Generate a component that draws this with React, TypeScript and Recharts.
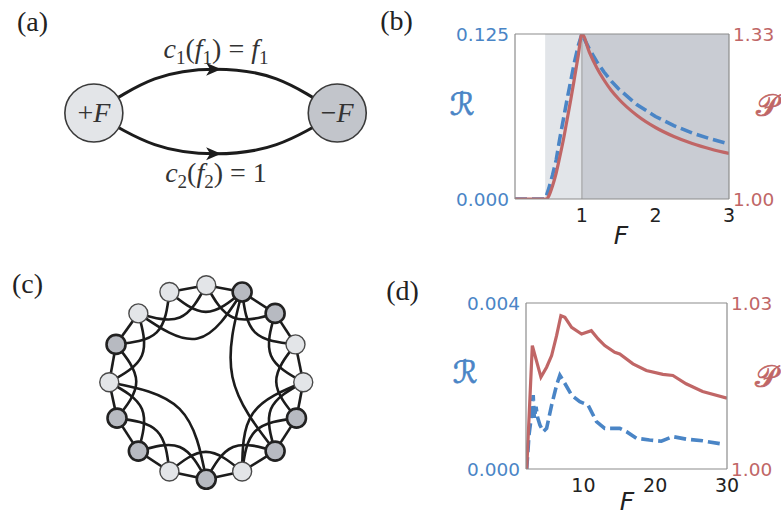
import React from 'react';
import { ComposedChart, Line, Scatter, XAxis, YAxis, ReferenceArea, ReferenceLine } from 'recharts';

const BLUE = '#4a85c6';
const RED = '#c06666';
const FRAME = '#8c8c8c';
const INK = '#1c1c1c';
const LIGHT_NODE = '#e3e5e8';
const DARK_NODE = '#b7bac1';
const SERIF = '"Liberation Serif", "DejaVu Serif", serif';
const SANS = '"DejaVu Sans", sans-serif';

// (b) two-route network: R (left axis) and P (right axis) against F
const bF = [0.09, 0.5, 0.52, 0.55, 0.6, 0.65, 0.7, 0.75, 0.8, 0.85, 0.9, 0.95, 1.0, 1.1, 1.2, 1.3, 1.4, 1.5, 1.75, 2.0, 2.25, 2.5, 2.75, 3.0];
const bR = [0, 0, 0.003, 0.008, 0.018, 0.0295, 0.046, 0.061, 0.076, 0.09, 0.104, 0.116, 0.125, 0.1136, 0.1042, 0.0962, 0.0893, 0.0833, 0.0714, 0.0625, 0.0556, 0.05, 0.0455, 0.0417];
const bP = [1, 1, 1, 1.006, 1.026, 1.052, 1.085, 1.12, 1.16, 1.2, 1.243, 1.287, 1.33, 1.294, 1.263, 1.238, 1.217, 1.2, 1.167, 1.143, 1.125, 1.111, 1.1, 1.091];
const bXTicks = [1, 2, 3];
const bRTicks = [0, 0.125];
const bPTicks = [1.0, 1.33];
const bBandEdges = [0.5, 1, 3];

// (d) larger network
const dRF = [2.1, 2.42, 2.7, 3.0, 3.16, 3.4, 3.6, 3.94, 4.4, 4.87, 5.57, 6.26, 6.72, 7.42, 8.35, 9.5, 10.65, 11.82, 12.97, 14.36, 15.06, 16.0, 17.4, 19.2, 20.85, 22.46, 24.3, 26.6, 29.4];
const dR = [0, 0.00082, 0.0012, 0.00178, 0.00122, 0.0015, 0.00125, 0.00106, 0.0009, 0.00098, 0.00154, 0.00202, 0.00226, 0.00206, 0.00178, 0.00162, 0.00154, 0.00114, 0.00098, 0.00098, 0.00098, 0.0009, 0.00074, 0.0007, 0.00067, 0.00078, 0.00072, 0.00068, 0.0006];
const dPF = [2.1, 2.88, 4.08, 4.87, 5.57, 6.26, 6.86, 7.42, 8.35, 9.74, 11.1, 12.05, 12.97, 14.36, 15.06, 16.9, 18.76, 21.07, 22.46, 24.3, 26.6, 30];
const dP = [1.0, 1.0223, 1.0166, 1.0184, 1.0205, 1.0241, 1.0277, 1.0274, 1.0256, 1.0244, 1.025, 1.0235, 1.0223, 1.0211, 1.0208, 1.019, 1.0178, 1.0171, 1.0169, 1.0154, 1.014, 1.0128];
const dXTicks = [10, 20, 30];
const dRTicks = [0, 0.004];
const dPTicks = [1.0, 1.03];

// (a) two nodes joined by two routes
const aNodes = [
  { x: -1, y: 0, sign: '+', shade: 'light' },
  { x: 1, y: 0, sign: '\u2212', shade: 'dark' },
];
const aUpper = [{ x: -1, y: 0 }, { x: -0.5, y: 0.28 }, { x: 0, y: 0.36 }, { x: 0.5, y: 0.28 }, { x: 1, y: 0 }];
const aLower = [{ x: -1, y: 0 }, { x: -0.5, y: -0.26 }, { x: 0, y: -0.335 }, { x: 0.5, y: -0.26 }, { x: 1, y: 0 }];
const aArrows = [{ x: -0.02, y: 0.36 }, { x: -0.02, y: -0.335 }];

// (c) ring network, node positions on the unit circle
const cNodes = [
  { x: -0.38, y: 0.93, shade: 'light' },
  { x: 0, y: 1.0, shade: 'light' },
  { x: 0.37, y: 0.93, shade: 'dark' },
  { x: 0.71, y: 0.71, shade: 'dark' },
  { x: 0.92, y: 0.39, shade: 'light' },
  { x: 1.0, y: 0, shade: 'light' },
  { x: 0.93, y: -0.37, shade: 'dark' },
  { x: 0.71, y: -0.71, shade: 'dark' },
  { x: 0.37, y: -0.92, shade: 'light' },
  { x: 0, y: -1.0, shade: 'dark' },
  { x: -0.38, y: -0.92, shade: 'light' },
  { x: -0.7, y: -0.71, shade: 'dark' },
  { x: -0.92, y: -0.37, shade: 'dark' },
  { x: -1.0, y: 0, shade: 'light' },
  { x: -0.93, y: 0.39, shade: 'dark' },
  { x: -0.7, y: 0.71, shade: 'light' },
];
// [from, to, bend towards centre]
const cEdges: [number, number, number][] = [
  [1, 2, 0], [2, 3, 0], [3, 4, 0], [4, 5, 0], [5, 6, 0], [6, 7, 0], [7, 8, 0], [8, 9, 0],
  [9, 10, 0], [10, 11, 0], [11, 12, 0], [12, 13, 0], [13, 14, 0], [14, 15, 0], [15, 16, 0],
  [1, 3, 0.22], [2, 4, 0.22], [3, 5, 0.22], [4, 6, 0.22], [5, 7, 0.22], [6, 8, 0.22],
  [7, 9, 0.22], [8, 10, 0.22], [9, 11, 0.22], [10, 12, 0.22], [11, 13, 0.22], [12, 14, 0.22],
  [13, 15, 0.22], [14, 16, 0.22], [15, 1, 0.22], [16, 2, 0.22],
  [3, 16, 0.45], [3, 8, 0.5], [14, 10, 0.45], [9, 6, 0.3],
];

const bData = bF.map((F, i) => ({ F, R: bR[i], P: bP[i] }));
const dRData = dRF.map((F, i) => ({ F, R: dR[i] }));
const dPData = dPF.map((F, i) => ({ F, P: dP[i] }));

function edgePoints(a: number, b: number, bend: number) {
  const p = cNodes[a - 1];
  const q = cNodes[b - 1];
  if (!bend) return [{ x: p.x, y: p.y }, { x: q.x, y: q.y }];
  const mx = (p.x + q.x) / 2;
  const my = (p.y + q.y) / 2;
  return [{ x: p.x, y: p.y }, { x: mx * (1 - bend), y: my * (1 - bend) }, { x: q.x, y: q.y }];
}

const Txt = ({ x, y, style, children }: any) => (
  <div
    style={{
      position: 'absolute',
      left: x,
      top: y,
      transform: 'translate(-50%, -50%)',
      whiteSpace: 'nowrap',
      lineHeight: 1,
      ...style,
    }}
  >
    {children}
  </div>
);

const sub = { fontSize: '0.68em', verticalAlign: '-0.28em' };

const tickStyle = (fill: string) => ({ fill, fontSize: 18.5, fontFamily: SANS });

function DualChart({ left, top, plotW, plotH, xDomain, xTicks, rDomain, rTicks, pDomain, pTicks, rDigits, children }: any) {
  return (
    <div style={{ position: 'absolute', left, top }}>
      <ComposedChart width={60 + plotW + 50} height={15 + plotH + 50} margin={{ top: 15, right: 0, bottom: 0, left: 0 }}>
        <XAxis
          dataKey="F"
          type="number"
          domain={xDomain}
          ticks={xTicks}
          interval={0}
          allowDataOverflow
          height={50}
          tickLine={false}
          tickSize={0}
          tickMargin={10}
          axisLine={{ stroke: FRAME, strokeWidth: 1.2 }}
          tick={{ ...tickStyle('#222'), fontSize: 19 }}
        />
        <YAxis
          yAxisId="left"
          type="number"
          domain={rDomain}
          ticks={rTicks}
          interval={0}
          allowDataOverflow
          width={60}
          tickLine={false}
          tickSize={0}
          tickMargin={6}
          tickFormatter={(v: number) => v.toFixed(rDigits)}
          axisLine={{ stroke: FRAME, strokeWidth: 1.2 }}
          tick={tickStyle(BLUE)}
        />
        <YAxis
          yAxisId="right"
          orientation="right"
          type="number"
          domain={pDomain}
          ticks={pTicks}
          interval={0}
          allowDataOverflow
          width={50}
          tickLine={false}
          tickSize={0}
          tickMargin={4}
          tickFormatter={(v: number) => v.toFixed(2)}
          axisLine={{ stroke: FRAME, strokeWidth: 1.2 }}
          tick={tickStyle(RED)}
        />
        {children}
        <ReferenceLine yAxisId="left" y={rDomain[1]} stroke={FRAME} strokeWidth={1.2} />
      </ComposedChart>
    </div>
  );
}

const ArrowHead = (p: any) => (
  <path
    d={`M ${p.cx + 8} ${p.cy} L ${p.cx - 7} ${p.cy - 6.5} L ${p.cx - 3} ${p.cy} L ${p.cx - 7} ${p.cy + 6.5} Z`}
    fill={INK}
  />
);

const BigNode = (p: any) => {
  const n = p.payload;
  return (
    <g>
      <circle cx={p.cx} cy={p.cy} r={29} fill={n.shade === 'dark' ? '#c2c5cb' : LIGHT_NODE} stroke="#3a3a3a" strokeWidth={1.6} />
      <text x={p.cx} y={p.cy + 9.5} textAnchor="middle" fontFamily={SERIF} fontSize={28} fill="#333">
        {n.sign}
        <tspan fontStyle="italic">F</tspan>
      </text>
    </g>
  );
};

const RingNode = (p: any) => {
  const dark = p.payload.shade === 'dark';
  return (
    <circle
      cx={p.cx}
      cy={p.cy}
      r={9.5}
      fill={dark ? DARK_NODE : LIGHT_NODE}
      stroke={dark ? '#222' : '#4a4a4a'}
      strokeWidth={dark ? 2.6 : 1.4}
    />
  );
};

const symbolStyle = (color: string) => ({
  fontFamily: '"DejaVu Sans", serif',
  fontSize: 31,
  color,
  WebkitTextStroke: `0.7px ${color}`,
});
const axisTitle = { fontFamily: SANS, fontStyle: 'italic', fontSize: 25, color: '#222', lineHeight: '20px' };

export default function App() {
  return (
    <div style={{ position: 'absolute', left: 0, top: 0, width: 781, height: 518, background: '#fff', overflow: 'hidden' }}>
      {/* (a) */}
      <div style={{ position: 'absolute', left: 33.45, top: 40.3 }}>
        <ComposedChart width={365.1} height={146} margin={{ top: 0, right: 0, bottom: 0, left: 0 }}>
          <XAxis dataKey="x" type="number" domain={[-1.5, 1.5]} hide allowDataOverflow />
          <YAxis dataKey="y" type="number" domain={[-0.6, 0.6]} hide allowDataOverflow />
          <Line data={aUpper} dataKey="y" type="natural" stroke={INK} strokeWidth={3} dot={false} activeDot={false} isAnimationActive={false} />
          <Line data={aLower} dataKey="y" type="natural" stroke={INK} strokeWidth={3} dot={false} activeDot={false} isAnimationActive={false} />
          <Scatter data={aArrows} dataKey="y" shape={ArrowHead} isAnimationActive={false} />
          <Scatter data={aNodes} dataKey="y" shape={BigNode} isAnimationActive={false} />
        </ComposedChart>
      </div>
      <Txt x={32.5} y={21.5} style={{ fontFamily: SERIF, fontSize: 28, color: '#222' }}>(a)</Txt>
      <Txt x={216} y={51} style={{ fontFamily: SERIF, fontSize: 28, color: '#333' }}>
        <i>c</i><span style={sub}>1</span>(<i>f</i><span style={sub}>1</span>) = <i>f</i><span style={sub}>1</span>
      </Txt>
      <Txt x={216} y={175} style={{ fontFamily: SERIF, fontSize: 28, color: '#333' }}>
        <i>c</i><span style={sub}>2</span>(<i>f</i><span style={sub}>2</span>) = 1
      </Txt>

      {/* (b) */}
      <Txt x={396.5} y={21} style={{ fontFamily: SERIF, fontSize: 28, color: '#222' }}>(b)</Txt>
      <DualChart
        left={455}
        top={19}
        plotW={214}
        plotH={165}
        xDomain={[0.09, 3]}
        xTicks={bXTicks}
        rDomain={[0, 0.125]}
        rTicks={bRTicks}
        pDomain={[1, 1.33]}
        pTicks={bPTicks}
        rDigits={3}
      >
        <ReferenceArea yAxisId="left" x1={bBandEdges[0]} x2={bBandEdges[1]} fill="#e2e5e9" fillOpacity={1} stroke="none" />
        <ReferenceArea yAxisId="left" x1={bBandEdges[1]} x2={bBandEdges[2]} fill="#c9ccd3" fillOpacity={1} stroke="none" />
        <ReferenceLine yAxisId="left" x={bBandEdges[1]} stroke="#9a9a9a" strokeWidth={1} />
        <Line data={bData} yAxisId="left" dataKey="R" type="linear" stroke={BLUE} strokeWidth={3.6} strokeDasharray="12 5" dot={false} activeDot={false} isAnimationActive={false} />
        <Line data={bData} yAxisId="right" dataKey="P" type="monotone" stroke={RED} strokeWidth={3.2} dot={false} activeDot={false} isAnimationActive={false} />
      </DualChart>
      <Txt x={462} y={104} style={symbolStyle(BLUE)}>{'\u211B'}</Txt>
      <Txt x={767} y={105} style={symbolStyle(RED)}>{'\u{1D4AB}'}</Txt>
      <Txt x={621} y={236} style={axisTitle}>F</Txt>

      {/* (c) */}
      <Txt x={27.5} y={284} style={{ fontFamily: SERIF, fontSize: 28, color: '#222' }}>(c)</Txt>
      <div style={{ position: 'absolute', left: 84.75, top: 261.25 }}>
        <ComposedChart width={242.5} height={242.5} margin={{ top: 0, right: 0, bottom: 0, left: 0 }}>
          <XAxis dataKey="x" type="number" domain={[-1.25, 1.25]} hide allowDataOverflow />
          <YAxis dataKey="y" type="number" domain={[-1.25, 1.25]} hide allowDataOverflow />
          {cEdges.map(([a, b, bend], i) => (
            <Line
              key={i}
              data={edgePoints(a, b, bend)}
              dataKey="y"
              type={bend ? 'natural' : 'linear'}
              stroke={INK}
              strokeWidth={2.6}
              dot={false}
              activeDot={false}
              isAnimationActive={false}
            />
          ))}
          <Scatter data={cNodes} dataKey="y" shape={RingNode} isAnimationActive={false} />
        </ComposedChart>
      </div>

      {/* (d) */}
      <Txt x={402.5} y={291} style={{ fontFamily: SERIF, fontSize: 28, color: '#222' }}>(d)</Txt>
      <DualChart
        left={466}
        top={288}
        plotW={201}
        plotH={166}
        xDomain={[2, 30]}
        xTicks={dXTicks}
        rDomain={[0, 0.004]}
        rTicks={dRTicks}
        pDomain={[1, 1.03]}
        pTicks={dPTicks}
        rDigits={3}
      >
        <Line data={dRData} yAxisId="left" dataKey="R" type="linear" stroke={BLUE} strokeWidth={3.6} strokeDasharray="12 5" dot={false} activeDot={false} isAnimationActive={false} />
        <Line data={dPData} yAxisId="right" dataKey="P" type="linear" stroke={RED} strokeWidth={3.2} dot={false} activeDot={false} isAnimationActive={false} />
      </DualChart>
      <Txt x={465} y={372} style={symbolStyle(BLUE)}>{'\u211B'}</Txt>
      <Txt x={766} y={376} style={symbolStyle(RED)}>{'\u{1D4AB}'}</Txt>
      <Txt x={627} y={502} style={axisTitle}>F</Txt>
    </div>
  );
}
